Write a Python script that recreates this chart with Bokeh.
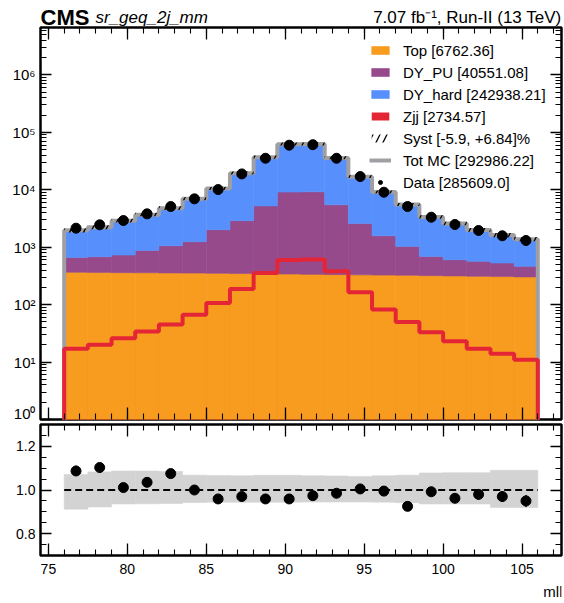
import numpy as np
from bokeh.plotting import figure
from bokeh.models import (ColumnDataSource, Range1d, LinearAxis, LogAxis, FixedTicker,
                          SingleIntervalTicker, Legend, LegendItem, Label,
                          PrintfTickFormatter, CustomJSTickFormatter)
from bokeh.layouts import column
from bokeh.embed import file_html
from bokeh.resources import INLINE

# ---------------- data ----------------
bin_edges = [76.0, 77.5, 79.0, 80.5, 82.0, 83.5, 85.0, 86.5, 88.0, 89.5, 91.0,
             92.5, 94.0, 95.5, 97.0, 98.5, 100.0, 101.5, 103.0, 104.5, 106.0]
top = [366, 364, 361, 359, 356, 354, 351, 348, 344, 341,
       337, 334, 330, 327, 324, 320, 316, 312, 308, 304]
dy_pu = [299, 320, 370, 522, 706, 893, 1664, 2550, 4900, 8800,
         8900, 5150, 2250, 1258, 709, 372, 290, 255, 223, 160]
dy_hard = [1291, 1522, 2126, 2766, 3646, 5636, 8399, 16400, 31313, 52616,
           52781, 30075, 14152, 7449, 4441, 2632, 1954, 1411, 1084, 904]
zjj = [17, 20, 26, 34, 45, 67, 107, 187, 356, 600,
       610, 380, 164, 82, 50, 33, 23, 17, 14, 11]
data = [2145, 2455, 2915, 3810, 5110, 6950, 10090, 18900, 35400, 59800,
        61000, 35400, 16980, 9070, 5110, 3330, 2485, 1955, 1580, 1310]
syst_up = [1.071, 1.083, 1.087, 1.087, 1.085, 1.068, 1.066, 1.065, 1.067, 1.067,
           1.065, 1.064, 1.062, 1.065, 1.068, 1.078, 1.079, 1.079, 1.090, 1.090]
syst_down = [0.912, 0.922, 0.936, 0.937, 0.938, 0.943, 0.944, 0.944, 0.944, 0.944,
             0.945, 0.945, 0.945, 0.944, 0.942, 0.936, 0.936, 0.936, 0.920, 0.920]
legend_labels = ["Top [6762.36]", "DY_PU [40551.08]", "DY_hard [242938.21]",
                 "Zjj [2734.57]", "Syst [-5.9, +6.84]%", "Tot MC [292986.22]",
                 "Data [285609.0]"]
x_label = "mll"
cms_text = "CMS"
region_text = "sr_geq_2j_mm"
lumi_text = "7.07 fb\u207b\u00b9, Run-II (13 TeV)"

# ---------------- derived ----------------
FONT = "Liberation Sans"
edges = np.array(bin_edges)
left, right = edges[:-1], edges[1:]
centers = 0.5 * (left + right)
t = np.array(top, float)
pu = np.array(dy_pu, float)
hd = np.array(dy_hard, float)
zj = np.array(zjj, float)
dt = np.array(data, float)
s1 = t
s2 = t + pu
s3 = s2 + hd
mc = s3 + zj
floor = 1e-2
ratio = dt / mc
rerr = np.sqrt(dt) / mc
derr = np.sqrt(dt)

C_TOP, C_PU, C_HARD, C_ZJJ, C_MC = "#f89c20", "#964a8b", "#5790fc", "#e42536", "#a0a0a4"
FW = 521
LB, RB = 40, 3


def step_xy(vals):
    xs = [edges[0]]
    ys = [floor]
    for i, v in enumerate(vals):
        xs += [left[i], right[i]]
        ys += [v, v]
    xs.append(edges[-1])
    ys.append(floor)
    return xs, ys


def style_axis(ax, major_in, minor_in, labels=True):
    ax.axis_line_color = None
    ax.major_tick_in = major_in
    ax.major_tick_out = 0
    ax.minor_tick_in = minor_in
    ax.minor_tick_out = 0
    ax.major_tick_line_color = "black"
    ax.minor_tick_line_color = "black"
    ax.major_tick_line_width = 1.3
    ax.minor_tick_line_width = 1.1
    if labels:
        ax.major_label_text_font = FONT
        ax.major_label_text_font_size = "14px"
        ax.major_label_text_color = "black"
    else:
        ax.major_label_text_font_size = "1px"
        ax.major_label_text_color = None
        ax.major_label_standoff = 0


def text_strip(height, xr):
    f = figure(x_range=xr, y_range=Range1d(0, height), frame_width=FW, frame_height=height,
               min_border=0, min_border_left=LB, min_border_right=RB,
               min_border_top=0, min_border_bottom=0,
               x_axis_location=None, y_axis_location=None,
               output_backend="svg", toolbar_location=None)
    f.grid.visible = False
    f.outline_line_color = None
    f.border_fill_color = None
    f.background_fill_color = None
    return f


xr = Range1d(74.5, 107.5)
YMAX = 6.7e6

# ---------------- header (y in pixels from strip bottom) ----------------
HH = 26
BASE = 16.8  # baseline, px from the top of the page
h = text_strip(HH, xr)
h.add_layout(Label(x=74.5, y=HH - BASE, text=cms_text, text_font=FONT, text_font_style="bold",
                   text_font_size="22px", text_baseline="alphabetic", text_align="left",
                   x_offset=0, text_color="black"))
h.add_layout(Label(x=74.5, y=HH - BASE, text=region_text, text_font=FONT, text_font_style="italic",
                   text_font_size="17px", text_baseline="alphabetic", text_align="left",
                   x_offset=55, text_color="black"))
h.add_layout(Label(x=107.5, y=HH - BASE, text=lumi_text, text_font=FONT,
                   text_font_size="17px", text_baseline="alphabetic", text_align="right",
                   x_offset=0, text_color="black"))

# ---------------- main panel ----------------
p = figure(x_range=xr, y_range=Range1d(1, YMAX), y_axis_type="log",
           frame_width=FW, frame_height=392,
           min_border_left=LB, min_border_right=RB, min_border_top=1, min_border_bottom=2,
           output_backend="svg", toolbar_location=None)
p.grid.visible = False
p.outline_line_color = "black"
p.outline_line_width = 2.5
p.background_fill_color = "white"
p.border_fill_color = None

xt = SingleIntervalTicker(interval=5, num_minor_ticks=5)
yt = FixedTicker(ticks=[10.0 ** k for k in range(0, 7)],
                 minor_ticks=[m * 10.0 ** k for k in range(0, 7) for m in range(2, 10)])
logfmt = CustomJSTickFormatter(code="""
const sup = {"0":"\u2070","1":"\u00b9","2":"\u00b2","3":"\u00b3","4":"\u2074",
             "5":"\u2075","6":"\u2076","7":"\u2077","8":"\u2078","9":"\u2079","-":"\u207b"};
const e = Math.round(Math.log10(tick));
return "10" + String(e).split("").map(c => sup[c]).join("");
""")

p.xaxis.ticker = xt
style_axis(p.xaxis[0], 12, 6, labels=False)
p.yaxis.ticker = yt
p.yaxis.formatter = logfmt
style_axis(p.yaxis[0], 11, 6, labels=True)
p.yaxis.major_label_text_font_size = "15px"
p.yaxis.major_label_standoff = 5
ax_top = LinearAxis(ticker=xt)
style_axis(ax_top, 12, 6, labels=False)
p.add_layout(ax_top, "above")
ax_right = LogAxis(ticker=yt)
style_axis(ax_right, 11, 6, labels=False)
p.add_layout(ax_right, "right")

src = ColumnDataSource(dict(left=left, right=right, b0=np.full(len(left), floor),
                            s1=s1, s2=s2, s3=s3, mc=mc, zj=zj,
                            sup=mc * np.array(syst_up), sdn=mc * np.array(syst_down)))
# Zjj filled patch (fully hidden under the stack; provides the legend swatch)
r_zjj_patch = p.quad(left="left", right="right", bottom="b0", top="zj", source=src,
                     fill_color=C_ZJJ, line_color=None)
r_top = p.quad(left="left", right="right", bottom="b0", top="s1", source=src,
               fill_color=C_TOP, line_color=C_TOP, line_width=0.6)
r_pu = p.quad(left="left", right="right", bottom="s1", top="s2", source=src,
              fill_color=C_PU, line_color=C_PU, line_width=0.6)
r_hard = p.quad(left="left", right="right", bottom="s2", top="s3", source=src,
                fill_color=C_HARD, line_color=C_HARD, line_width=0.6)

mx, my = step_xy(mc)
r_mc = p.line(mx, my, line_color=C_MC, line_width=4)

r_syst = p.quad(left="left", right="right", bottom="sdn", top="sup", source=src,
                fill_alpha=0, line_color=None, hatch_pattern="/",
                hatch_color="black", hatch_weight=1.3, hatch_scale=14)

zx, zy = step_xy(zj)
r_zjj = p.line(zx, zy, line_color=C_ZJJ, line_width=4)

dsrc = ColumnDataSource(dict(x=centers, y=dt, lo=dt - derr, hi=dt + derr))
r_derr = p.segment(x0="x", y0="lo", x1="x", y1="hi", source=dsrc, line_color="black", line_width=2)
r_data = p.scatter(x="x", y="y", source=dsrc, size=10, fill_color="black", line_color="black")

legend = Legend(items=[
    LegendItem(label=legend_labels[0], renderers=[r_top]),
    LegendItem(label=legend_labels[1], renderers=[r_pu]),
    LegendItem(label=legend_labels[2], renderers=[r_hard]),
    LegendItem(label=legend_labels[3], renderers=[r_zjj_patch]),
    LegendItem(label=legend_labels[4], renderers=[r_syst]),
    LegendItem(label=legend_labels[5], renderers=[r_mc]),
    LegendItem(label=legend_labels[6], renderers=[r_data]),
], location=(329, 227))
legend.padding = 0
legend.margin = 0
legend.border_line_color = None
legend.background_fill_alpha = 0
legend.glyph_width = 22
legend.glyph_height = 10
legend.label_height = 20
legend.spacing = 2
legend.label_standoff = 12
legend.label_text_font = FONT
legend.label_text_font_size = "15px"
legend.label_text_color = "black"
p.add_layout(legend)

# ---------------- ratio panel ----------------
q = figure(x_range=xr, y_range=Range1d(0.7, 1.3),
           frame_width=FW, frame_height=131,
           min_border_left=LB, min_border_right=RB, min_border_top=3, min_border_bottom=26,
           output_backend="svg", toolbar_location=None)
q.grid.visible = False
q.outline_line_color = "black"
q.outline_line_width = 2.5
q.border_fill_color = None

q.xaxis.ticker = xt
style_axis(q.xaxis[0], 12, 6, labels=True)
q.xaxis.major_label_standoff = 8
rt = SingleIntervalTicker(interval=0.2, num_minor_ticks=4)
q.yaxis.ticker = rt
q.yaxis.formatter = PrintfTickFormatter(format="%.1f")
style_axis(q.yaxis[0], 11, 6, labels=True)
q.yaxis.major_label_standoff = 5
qa_top = LinearAxis(ticker=xt)
style_axis(qa_top, 12, 6, labels=False)
q.add_layout(qa_top, "above")
qa_right = LinearAxis(ticker=rt)
style_axis(qa_right, 11, 6, labels=False)
q.add_layout(qa_right, "right")

bsrc = ColumnDataSource(dict(left=left, right=right, lo=np.array(syst_down), hi=np.array(syst_up)))
q.quad(left="left", right="right", bottom="lo", top="hi", source=bsrc,
       fill_color="#d3d3d3", line_color="#d3d3d3", line_width=0.6)
q.line([edges[0], edges[-1]], [1.0, 1.0], line_color="black", line_width=2, line_dash="7 4")
rsrc = ColumnDataSource(dict(x=centers, y=ratio, lo=ratio - rerr, hi=ratio + rerr))
q.segment(x0="x", y0="lo", x1="x", y1="hi", source=rsrc, line_color="black", line_width=2)
q.scatter(x="x", y="y", source=rsrc, size=10, fill_color="black", line_color="black")

# ---------------- footer (x label) ----------------
f = text_strip(20, xr)
f.add_layout(Label(x=107.5, y=10, text=x_label, text_font=FONT, text_font_size="15px",
                   text_baseline="middle", text_align="right", x_offset=1, text_color="black"))

layout = column(h, p, q, f, spacing=0)
open("out.html", "w").write(file_html(layout, INLINE))
